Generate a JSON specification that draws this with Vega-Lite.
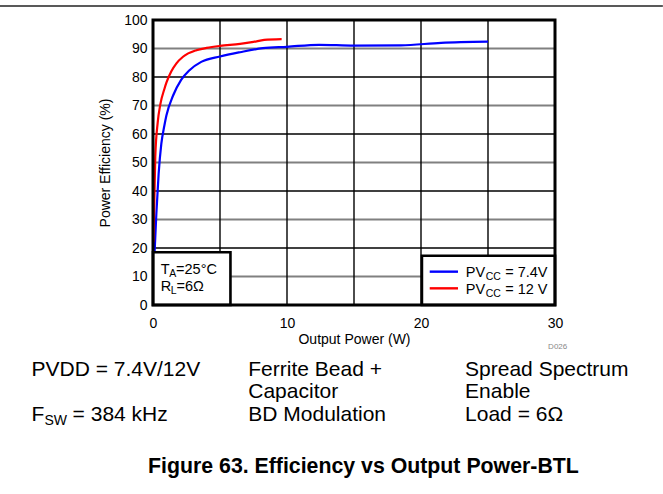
{
  "$schema": "https://vega.github.io/schema/vega-lite/v6.json",
  "width": 402,
  "height": 285,
  "autosize": {"type": "none"},
  "padding": {"left": 153, "top": 20, "right": 108, "bottom": 189},
  "background": "white",
  "config": {
    "font": "Liberation Sans",
    "view": {"stroke": null},
    "axis": {"grid": false, "ticks": false, "domain": false, "labelOverlap": false, "labelFlush": false, "labelFontSize": 14, "labelColor": "black",
             "titleFontSize": 14, "titleFontWeight": "normal", "titleColor": "black"},
    "axisY": {"tickCount": 10, "labelPadding": 6, "titlePadding": 11},
    "axisX": {"tickCount": 3, "labelPadding": 11, "titlePadding": 2}
  },
  "datasets": {
    "curves": [
      {"series": "7.4V", "p": 0.12, "eff": 18.5},
      {"series": "7.4V", "p": 0.25, "eff": 32},
      {"series": "7.4V", "p": 0.42, "eff": 46},
      {"series": "7.4V", "p": 0.62, "eff": 56.5},
      {"series": "7.4V", "p": 0.85, "eff": 63},
      {"series": "7.4V", "p": 1.0, "eff": 66.5},
      {"series": "7.4V", "p": 1.5, "eff": 73.5},
      {"series": "7.4V", "p": 2.1, "eff": 79},
      {"series": "7.4V", "p": 2.7, "eff": 82.3},
      {"series": "7.4V", "p": 3.6, "eff": 85.3},
      {"series": "7.4V", "p": 5.0, "eff": 87.2},
      {"series": "7.4V", "p": 6.5, "eff": 88.7},
      {"series": "7.4V", "p": 8.2, "eff": 90.1},
      {"series": "7.4V", "p": 10.0, "eff": 90.6},
      {"series": "7.4V", "p": 12.4, "eff": 91.3},
      {"series": "7.4V", "p": 15.0, "eff": 91.0},
      {"series": "7.4V", "p": 18.5, "eff": 91.1},
      {"series": "7.4V", "p": 21.5, "eff": 92.0},
      {"series": "7.4V", "p": 25.0, "eff": 92.4},
      {"series": "12V", "p": 0.03, "eff": 22},
      {"series": "12V", "p": 0.17, "eff": 52},
      {"series": "12V", "p": 0.35, "eff": 64},
      {"series": "12V", "p": 0.55, "eff": 70.5},
      {"series": "12V", "p": 0.85, "eff": 75.8},
      {"series": "12V", "p": 1.0, "eff": 78},
      {"series": "12V", "p": 1.37, "eff": 82},
      {"series": "12V", "p": 1.75, "eff": 84.8},
      {"series": "12V", "p": 2.24, "eff": 87.1},
      {"series": "12V", "p": 3.24, "eff": 89.4},
      {"series": "12V", "p": 4.0, "eff": 90.2},
      {"series": "12V", "p": 5.0, "eff": 90.9},
      {"series": "12V", "p": 6.5, "eff": 91.6},
      {"series": "12V", "p": 7.5, "eff": 92.3},
      {"series": "12V", "p": 8.3, "eff": 93.0},
      {"series": "12V", "p": 9.6, "eff": 93.3}
    ],
    "hgridGray": [{"v": 10}, {"v": 30}, {"v": 50}, {"v": 70}, {"v": 90}],
    "hgridBlack": [{"v": 20}, {"v": 40}, {"v": 60}, {"v": 80}],
    "vgrid": [{"v": 5}, {"v": 10}, {"v": 15}, {"v": 20}, {"v": 25}],
    "boxes": [
      {"x0": 0, "x1": 5.78, "y0": 0, "y1": 18.5},
      {"x0": 20.07, "x1": 30, "y0": 0, "y1": 17.3}
    ],
    "frame": [{"x0": 0, "x1": 30, "y0": 0, "y1": 100}],
    "legendLines": [
      {"series": "7.4V", "xa": 20.65, "xb": 22.76, "y": 11.7},
      {"series": "12V", "xa": 20.65, "xb": 22.76, "y": 5.85}
    ],
    "annot": [
      {"x": 0.575, "y": 10.8, "t": "T"},
      {"x": 1.72, "y": 10.8, "t": "=25°C"},
      {"x": 0.575, "y": 4.9, "t": "R"},
      {"x": 1.75, "y": 4.9, "t": "=6Ω"},
      {"x": 23.34, "y": 9.7, "t": "PV"},
      {"x": 26.28, "y": 9.7, "t": "= 7.4V"},
      {"x": 23.34, "y": 3.86, "t": "PV"},
      {"x": 26.28, "y": 3.86, "t": "= 12 V"}
    ],
    "annotSub": [
      {"x": 1.22, "y": 9.8, "t": "A"},
      {"x": 1.33, "y": 3.9, "t": "L"},
      {"x": 24.83, "y": 8.7, "t": "CC"},
      {"x": 24.83, "y": 2.86, "t": "CC"}
    ],
    "body": [
      {"x": -9.07, "y": -24.9, "t": "PVDD = 7.4V/12V"},
      {"x": 7.11, "y": -24.9, "t": "Ferrite Bead +"},
      {"x": 7.11, "y": -32.8, "t": "Capacitor"},
      {"x": 23.29, "y": -24.9, "t": "Spread Spectrum"},
      {"x": 23.29, "y": -32.8, "t": "Enable"},
      {"x": -9.07, "y": -40.8, "t": "F"},
      {"x": -6.0, "y": -40.8, "t": "= 384 kHz"},
      {"x": 7.11, "y": -40.8, "t": "BD Modulation"},
      {"x": 23.29, "y": -40.8, "t": "Load = 6Ω"}
    ],
    "bodySub": [{"x": -8.1, "y": -42.2, "t": "SW"}],
    "caption": [{"x": -0.37, "y": -58.9, "t": "Figure 63. Efficiency vs Output Power-BTL"}],
    "code": [{"x": 30.2, "y": -15.4, "t": "D026"}],
    "sep": [{"xa": -11.44, "xb": 38.05, "y": 104.9}]
  },
  "layer": [
    {
      "data": {"name": "hgridGray"},
      "mark": {"type": "rule", "strokeWidth": 1.8, "color": "#808080"},
      "encoding": {
        "y": {"field": "v", "type": "quantitative", "scale": {"domain": [0, 100], "nice": false},
              "axis": {"title": "Power Efficiency (%)"}}
      }
    },
    {
      "data": {"name": "hgridBlack"},
      "mark": {"type": "rule", "strokeWidth": 1.4, "color": "black"},
      "encoding": {"y": {"field": "v", "type": "quantitative"}}
    },
    {
      "data": {"name": "vgrid"},
      "mark": {"type": "rule", "strokeWidth": 1.4, "color": "black"},
      "encoding": {
        "x": {"field": "v", "type": "quantitative", "scale": {"domain": [0, 30], "nice": false},
              "axis": {"title": "Output Power (W)"}}
      }
    },
    {
      "data": {"name": "curves"},
      "mark": {"type": "line", "strokeWidth": 2.2, "interpolate": "monotone"},
      "encoding": {
        "x": {"field": "p", "type": "quantitative"},
        "y": {"field": "eff", "type": "quantitative"},
        "color": {"field": "series", "type": "nominal", "scale": {"domain": ["7.4V", "12V"], "range": ["#0000ff", "#ff0000"]}, "legend": null},
        "order": {"field": "p", "type": "quantitative"}
      }
    },
    {
      "data": {"name": "boxes"},
      "mark": {"type": "rect", "fill": "white", "stroke": "black", "strokeWidth": 2.6},
      "encoding": {
        "x": {"field": "x0", "type": "quantitative"},
        "x2": {"field": "x1"},
        "y": {"field": "y0", "type": "quantitative"},
        "y2": {"field": "y1"}
      }
    },
    {
      "data": {"name": "legendLines"},
      "mark": {"type": "rule", "strokeWidth": 2.4},
      "encoding": {
        "x": {"field": "xa", "type": "quantitative"},
        "x2": {"field": "xb"},
        "y": {"field": "y", "type": "quantitative"},
        "color": {"field": "series", "type": "nominal", "legend": null}
      }
    },
    {
      "data": {"name": "annot"},
      "mark": {"type": "text", "align": "left", "baseline": "alphabetic", "fontSize": 14.5, "color": "black"},
      "encoding": {
        "x": {"field": "x", "type": "quantitative"},
        "y": {"field": "y", "type": "quantitative"},
        "text": {"field": "t"}
      }
    },
    {
      "data": {"name": "annotSub"},
      "mark": {"type": "text", "align": "left", "baseline": "alphabetic", "fontSize": 10.5, "color": "black"},
      "encoding": {
        "x": {"field": "x", "type": "quantitative"},
        "y": {"field": "y", "type": "quantitative"},
        "text": {"field": "t"}
      }
    },
    {
      "data": {"name": "frame"},
      "mark": {"type": "rect", "fill": null, "fillOpacity": 0, "stroke": "black", "strokeWidth": 3},
      "encoding": {
        "x": {"field": "x0", "type": "quantitative"},
        "x2": {"field": "x1"},
        "y": {"field": "y0", "type": "quantitative"},
        "y2": {"field": "y1"}
      }
    },
    {
      "data": {"name": "body"},
      "mark": {"type": "text", "align": "left", "baseline": "alphabetic", "fontSize": 21, "color": "black"},
      "encoding": {
        "x": {"field": "x", "type": "quantitative"},
        "y": {"field": "y", "type": "quantitative"},
        "text": {"field": "t"}
      }
    },
    {
      "data": {"name": "bodySub"},
      "mark": {"type": "text", "align": "left", "baseline": "alphabetic", "fontSize": 14, "color": "black"},
      "encoding": {
        "x": {"field": "x", "type": "quantitative"},
        "y": {"field": "y", "type": "quantitative"},
        "text": {"field": "t"}
      }
    },
    {
      "data": {"name": "caption"},
      "mark": {"type": "text", "align": "left", "baseline": "alphabetic", "fontSize": 21.3, "fontWeight": "bold", "color": "black"},
      "encoding": {
        "x": {"field": "x", "type": "quantitative"},
        "y": {"field": "y", "type": "quantitative"},
        "text": {"field": "t"}
      }
    },
    {
      "data": {"name": "code"},
      "mark": {"type": "text", "align": "center", "baseline": "alphabetic", "fontSize": 8, "color": "#888888"},
      "encoding": {
        "x": {"field": "x", "type": "quantitative"},
        "y": {"field": "y", "type": "quantitative"},
        "text": {"field": "t"}
      }
    },
    {
      "data": {"name": "sep"},
      "mark": {"type": "rule", "strokeWidth": 1.5, "color": "#222222"},
      "encoding": {
        "x": {"field": "xa", "type": "quantitative"},
        "x2": {"field": "xb"},
        "y": {"field": "y", "type": "quantitative"}
      }
    }
  ]
}
